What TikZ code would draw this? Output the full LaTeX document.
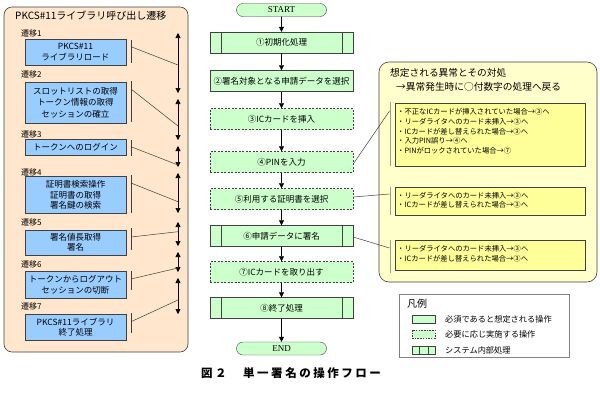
\documentclass[tikz,border=0pt]{standalone}
\usepackage{fontspec}
\setmainfont{Noto Sans CJK JP}
\newfontfamily\serifl{Liberation Serif}
\usetikzlibrary{arrows.meta,shapes.misc}
\definecolor{flowgreen}{HTML}{CCFFCC}
\definecolor{boxblue}{HTML}{99CCFF}
\definecolor{peach}{HTML}{FFE6CC}
\definecolor{paleyellow}{HTML}{FFFFCC}
\definecolor{brightyellow}{HTML}{FFFF99}
\definecolor{edge}{HTML}{404040}
\definecolor{bracketgray}{HTML}{A09C88}
\tikzset{
  tip/.tip={Triangle[length=5pt,width=5pt]},
  flowbox/.style={rectangle,draw=edge,fill=flowgreen,minimum width=143pt,minimum height=21pt,inner sep=0pt,font=\fontsize{8.5}{10}\selectfont},
  flowdash/.style={flowbox,dash pattern=on 2pt off 1.5pt},
  termbox/.style={rounded rectangle,draw=edge,fill=flowgreen,minimum width=90pt,minimum height=13pt,inner sep=0pt,font=\serifl\fontsize{9}{10}\selectfont},
  bluebox/.style={rectangle,draw=edge,fill=boxblue,minimum width=101pt,inner sep=0pt,align=center,font=\fontsize{8.5}{10.5}\selectfont},
  translabel/.style={anchor=west,inner sep=0pt,font=\fontsize{8}{9}\selectfont},
  bracketline/.style={draw=edge,line width=0.6pt},
  slant/.style={draw=edge,line width=0.5pt},
  flowarrow/.style={draw=black,line width=0.6pt,-tip},
  spanarrow/.style={draw=black,line width=0.6pt,tip-tip},
  ybracket/.style={draw=bracketgray,line width=1.6pt},
  listbox/.style={rectangle,draw=edge,fill=brightyellow,minimum width=190pt,inner sep=0pt},
  listtext/.style={anchor=north west,inner sep=0pt,align=left,font=\fontsize{7.3}{9.6}\selectfont},
  legendtext/.style={anchor=west,inner sep=0pt,font=\fontsize{8.2}{9}\selectfont},
  sample/.style={rectangle,draw=edge,fill=flowgreen,minimum width=23pt,minimum height=8pt,inner sep=0pt}
}
\begin{document}
\begin{tikzpicture}[x=1pt,y=-1pt]
\useasboundingbox[fill=white] (0,0) rectangle (600,400);

% ---------------- left panel ----------------
\draw[draw=edge,fill=peach,rounded corners=8pt,line width=0.6pt] (4,7) rectangle (188,352);
\node[anchor=west,inner sep=0pt,font=\fontsize{10}{11}\selectfont] (lefttitle) at (15,16) {PKCS\#11ライブラリ呼び出し遷移};

\node[translabel] (t1) at (21,33) {遷移1};
\node[translabel] (t2) at (21,74) {遷移2};
\node[translabel] (t3) at (21,134) {遷移3};
\node[translabel] (t4) at (21,172) {遷移4};
\node[translabel] (t5) at (21,222) {遷移5};
\node[translabel] (t6) at (21,264) {遷移6};
\node[translabel] (t7) at (21,306) {遷移7};

\node[bluebox,minimum height=26pt] (b1) at (75.5,52) {PKCS\#11\\ライブラリロード};
\node[bluebox,minimum height=41pt,font=\fontsize{8.5}{11.5}\selectfont] (b2) at (75.5,102.3) {スロットリストの取得\\トークン情報の取得\\セッションの確立};
\node[bluebox,minimum height=16pt] (b3) at (75.5,147.5) {トークンへのログイン};
\node[bluebox,minimum height=37pt] (b4) at (75.5,195) {証明書検索操作\\証明書の取得\\署名鍵の検索};
\node[bluebox,minimum height=25pt] (b5) at (75.5,242.5) {署名値長取得\\署名};
\node[bluebox,minimum height=27pt] (b6) at (75.5,285) {トークンからログアウト\\セッションの切断};
\node[bluebox,minimum height=26pt] (b7) at (75.5,327) {PKCS\#11ライブラリ\\終了処理};

% brackets beside blue boxes
\coordinate (k1a) at (131,40);  \coordinate (k1b) at (131,63);
\coordinate (k2a) at (131,81);  \coordinate (k2b) at (131,122);
\coordinate (k3a) at (131,140); \coordinate (k3b) at (131,156);
\coordinate (k4a) at (131,175); \coordinate (k4b) at (131,213);
\coordinate (k5a) at (131,228); \coordinate (k5b) at (131,250);
\coordinate (k6a) at (131,271); \coordinate (k6b) at (131,290);
\coordinate (k7a) at (131,313); \coordinate (k7b) at (131,333);
\foreach \i in {1,...,7}{\draw[bracketline] (k\i a) -- (k\i b);}

% span arrows
\coordinate (s1a) at (178,33);  \coordinate (s1b) at (178,93);
\coordinate (s2a) at (178,99);  \coordinate (s2b) at (178,140);
\coordinate (s3a) at (178,146); \coordinate (s3b) at (178,167);
\coordinate (s4a) at (178,173); \coordinate (s4b) at (178,213);
\coordinate (s5a) at (178,222); \coordinate (s5b) at (178,246);
\coordinate (s6a) at (178,252); \coordinate (s6b) at (178,272);
\coordinate (s7a) at (178,278); \coordinate (s7b) at (178,314);
\foreach \i in {1,...,7}{\draw[spanarrow] (s\i a) -- (s\i b);}

% slanted connectors
\coordinate (c1a) at (131,46.7);  \coordinate (c1b) at (178,65);
\coordinate (c2a) at (131,89);    \coordinate (c2b) at (178,126);
\coordinate (c3a) at (131,146.7); \coordinate (c3b) at (178,165);
\coordinate (c4a) at (131,183);   \coordinate (c4b) at (178,201.7);
\coordinate (c5a) at (131,237);   \coordinate (c5b) at (178,231.7);
\coordinate (c6a) at (131,279);   \coordinate (c6b) at (178,268);
\coordinate (c7a) at (131,321.7); \coordinate (c7b) at (178,300);
\foreach \i in {1,...,7}{\draw[slant] (c\i a) -- (c\i b);}

% ---------------- centre flow ----------------
\node[termbox] (start) at (281.5,10) {START};
\node[flowbox] (f1) at (281.5,42.5) {①初期化処理};
\node[flowbox] (f2) at (281.5,81) {②署名対象となる申請データを選択};
\node[flowdash] (f3) at (281.5,119) {③ICカードを挿入};
\node[flowdash] (f4) at (281.5,162) {④PINを入力};
\node[flowdash] (f5) at (281.5,199) {⑤利用する証明書を選択};
\node[flowbox] (f6) at (281.5,236) {⑥申請データに署名};
\node[flowdash] (f7) at (281.5,272) {⑦ICカードを取り出す};
\node[flowbox] (f8) at (281.5,308) {⑧終了処理};
\node[termbox] (end) at (281.5,348.5) {END};

\foreach \n in {f1,f6,f8}{
  \draw[draw=edge] ([xshift=11pt]\n.north west) -- ([xshift=11pt]\n.south west);
  \draw[draw=edge] ([xshift=-11pt]\n.north east) -- ([xshift=-11pt]\n.south east);
}

\draw[flowarrow] (start) -- (f1);
\draw[flowarrow] (f1) -- (f2);
\draw[flowarrow] (f2) -- (f3);
\draw[flowarrow] (f3) -- (f4);
\draw[flowarrow] (f4) -- (f5);
\draw[flowarrow] (f5) -- (f6);
\draw[flowarrow] (f6) -- (f7);
\draw[flowarrow] (f7) -- (f8);
\draw[flowarrow] (f8) -- (end);

% ---------------- right panel ----------------
\draw[draw=edge,fill=paleyellow,rounded corners=10pt,line width=0.6pt] (379,62) rectangle (597,282);
\node[anchor=north west,inner sep=0pt,align=left,font=\fontsize{9.7}{14}\selectfont] (rtitle) at (390,68) {想定される異常とその対処\\\hspace*{6pt}→異常発生時に○付数字の処理へ戻る};

\node[listbox,minimum height=63pt] (la) at (490,134.5) {};
\node[listbox,minimum height=28pt] (lb) at (490,201) {};
\node[listbox,minimum height=30pt] (lc) at (490,255) {};

\node[listtext] (lat) at (397,108.5) {・不正なICカードが挿入されていた場合→③へ\\・リーダライタへのカード未挿入→③へ\\・ICカードが差し替えられた場合→③へ\\・入力PIN誤り→④へ\\・PINがロックされていた場合→⑦};
\node[listtext] (lbt) at (397,192) {・リーダライタへのカード未挿入→③へ\\・ICカードが差し替えられた場合→③へ};
\node[listtext] (lct) at (397,245.5) {・リーダライタへのカード未挿入→③へ\\・ICカードが差し替えられた場合→③へ};

\coordinate (ya1) at (390.5,102); \coordinate (ya2) at (390.5,166);
\coordinate (yb1) at (390.5,187); \coordinate (yb2) at (390.5,215);
\coordinate (yc1) at (390.5,240); \coordinate (yc2) at (390.5,273);
\draw[ybracket] (ya1) -- (ya2);
\draw[ybracket] (yb1) -- (yb2);
\draw[ybracket] (yc1) -- (yc2);

\coordinate (ja) at (389.5,111);
\coordinate (jb) at (389.5,194);
\coordinate (jc) at (389.5,248);
\draw[slant] ([yshift=-2pt]f4.east) -- (ja);
\draw[slant] ([yshift=2pt]f5.east) -- (jb);
\draw[slant] ([yshift=-1pt]f6.east) -- (jc);

% ---------------- legend ----------------
\draw[draw=gray,fill=white,line width=0.6pt] (399,294) rectangle (569,357);
\node[anchor=west,inner sep=0pt,font=\fontsize{10}{11}\selectfont] (legtitle) at (407,304) {凡例};
\node[sample] (g1) at (423.5,319) {};
\node[sample,dash pattern=on 1.5pt off 1.2pt] (g2) at (423.5,334) {};
\node[sample] (g3) at (423.5,350) {};
\draw[draw=edge] ([xshift=7pt]g3.north west) -- ([xshift=7pt]g3.south west);
\draw[draw=edge] ([xshift=-7pt]g3.north east) -- ([xshift=-7pt]g3.south east);
\node[legendtext] (l1) at (445,319) {必須であると想定される操作};
\node[legendtext] (l2) at (445,334) {必要に応じ実施する操作};
\node[legendtext] (l3) at (445,350) {システム内部処理};

% ---------------- caption ----------------
\node[inner sep=0pt,font=\fontsize{11.5}{12}\selectfont\bfseries\addfontfeature{LetterSpace=22}] (caption) at (291,373) {図２　単一署名の操作フロー};
\end{tikzpicture}
\end{document}
